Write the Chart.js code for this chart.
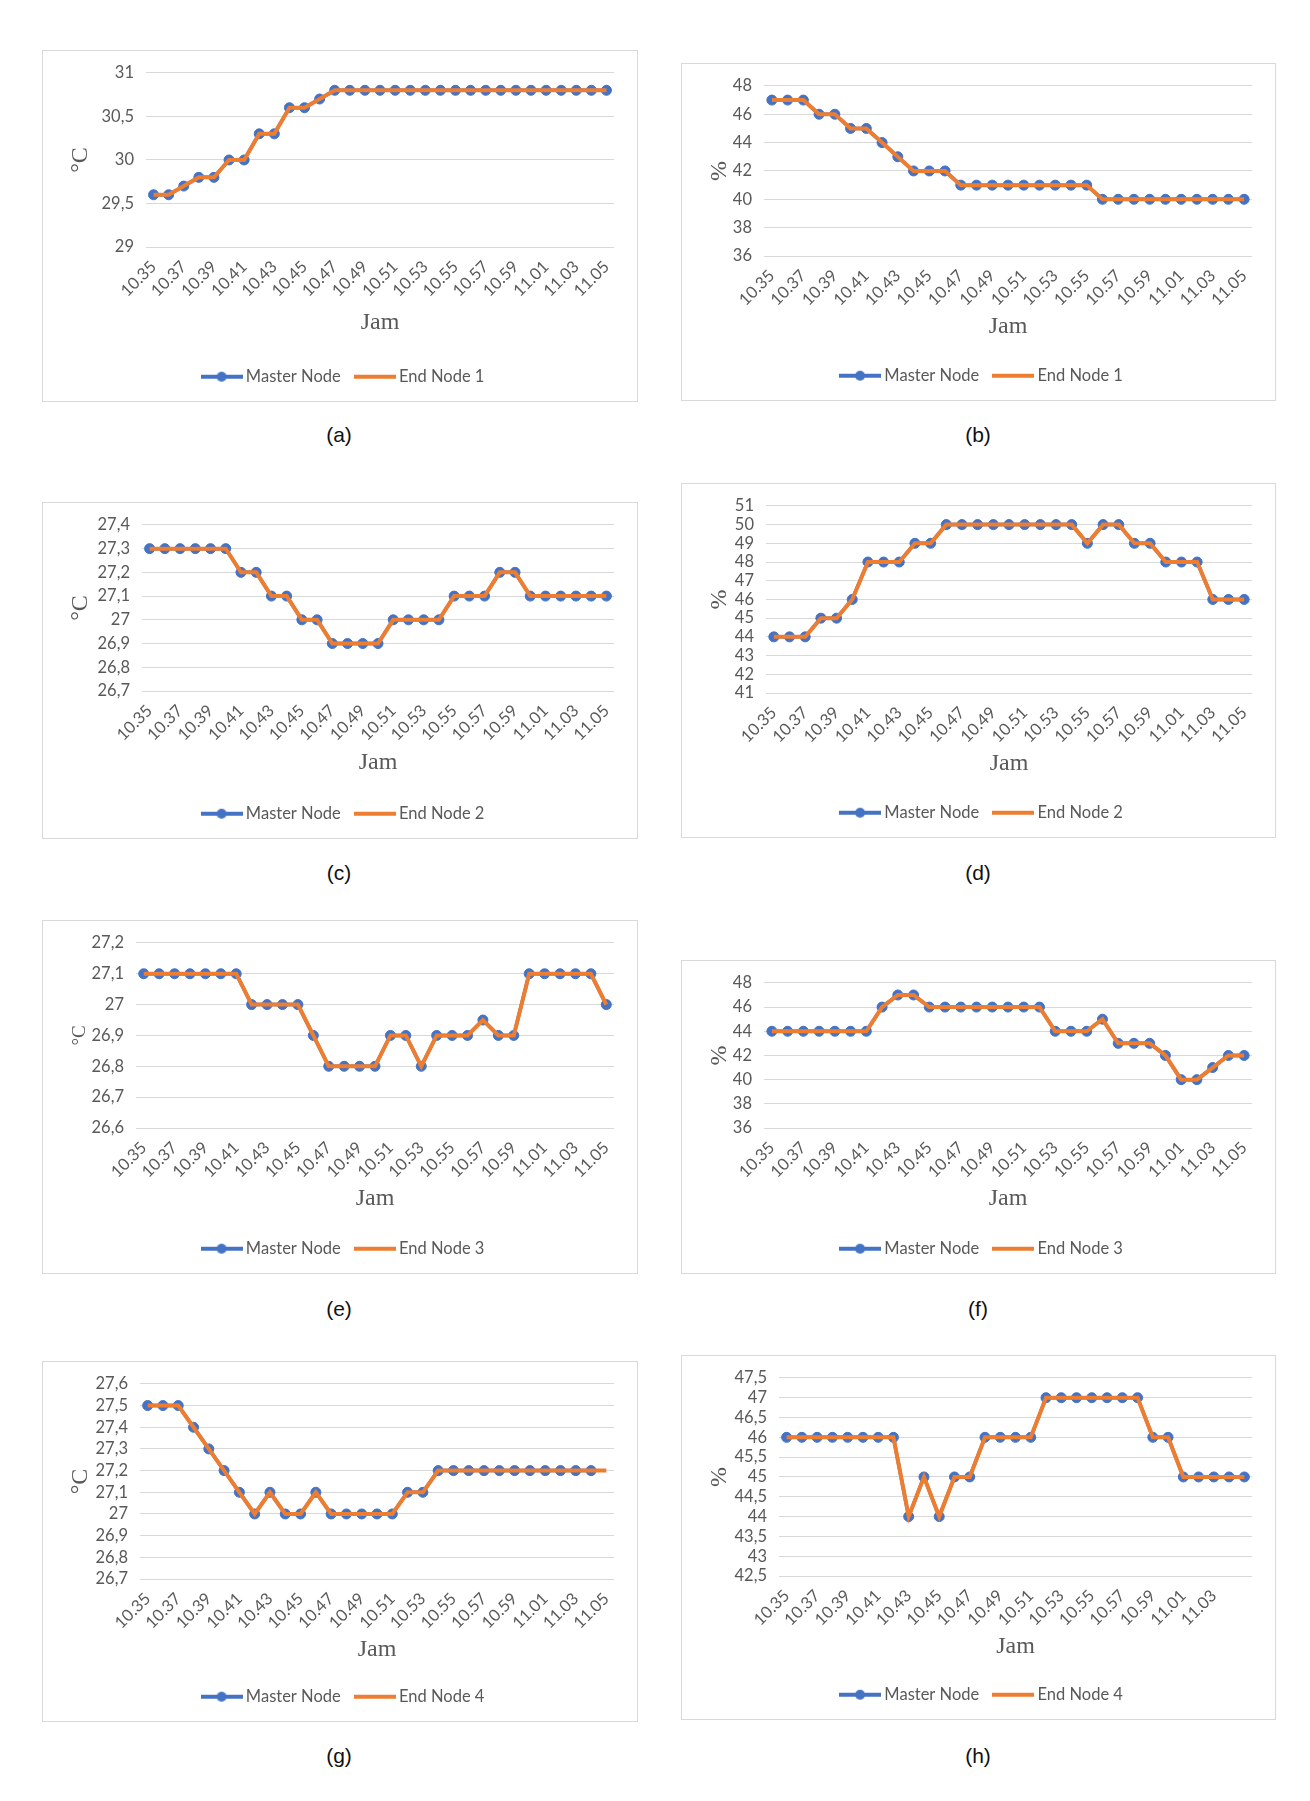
<!DOCTYPE html>
<html>
<head>
<meta charset="utf-8">
<script src="https://cdn.jsdelivr.net/npm/chart.js@4/dist/chart.umd.min.js"></script>
<style>
html,body{margin:0;padding:0;background:#fff;}
body{width:1310px;height:1801px;position:relative;overflow:hidden;font-family:"Liberation Sans",Arial,sans-serif;}
.panel{position:absolute;border:1px solid #d9d9d9;box-sizing:border-box;background:#fff;}
.panel canvas{position:absolute;left:0;top:0;}
.cap{position:absolute;font-size:21px;color:#111;transform:translate(-50%,-50%);white-space:nowrap;font-family:"Liberation Sans",Arial,sans-serif;}
</style>
</head>
<body>
<script>
// ---- categories (time) ----
const times = ['10.35','10.36','10.37','10.38','10.39','10.40','10.41','10.42','10.43','10.44','10.45','10.46','10.47','10.48','10.49','10.50','10.51','10.52','10.53','10.54','10.55','10.56','10.57','10.58','10.59','11.00','11.01','11.02','11.03','11.04','11.05'];

// ---- (a) temperature, End Node 1 ----
const masterA = [29.6,29.6,29.7,29.8,29.8,30.0,30.0,30.3,30.3,30.6,30.6,30.7,30.8,30.8,30.8,30.8,30.8,30.8,30.8,30.8,30.8,30.8,30.8,30.8,30.8,30.8,30.8,30.8,30.8,30.8,30.8];
const endA    = [29.6,29.6,29.7,29.8,29.8,30.0,30.0,30.3,30.3,30.6,30.6,30.7,30.8,30.8,30.8,30.8,30.8,30.8,30.8,30.8,30.8,30.8,30.8,30.8,30.8,30.8,30.8,30.8,30.8,30.8,30.8];
const yTicksA = [29, 29.5, 30, 30.5, 31];

// ---- (b) humidity, End Node 1 ----
const masterB = [47,47,47,46,46,45,45,44,43,42,42,42,41,41,41,41,41,41,41,41,41,40,40,40,40,40,40,40,40,40,40];
const endB    = [47,47,47,46,46,45,45,44,43,42,42,42,41,41,41,41,41,41,41,41,41,40,40,40,40,40,40,40,40,40,40];
const yTicksB = [36, 38, 40, 42, 44, 46, 48];

// ---- (c) temperature, End Node 2 ----
const masterC = [27.3,27.3,27.3,27.3,27.3,27.3,27.2,27.2,27.1,27.1,27.0,27.0,26.9,26.9,26.9,26.9,27.0,27.0,27.0,27.0,27.1,27.1,27.1,27.2,27.2,27.1,27.1,27.1,27.1,27.1,27.1];
const endC    = [27.3,27.3,27.3,27.3,27.3,27.3,27.2,27.2,27.1,27.1,27.0,27.0,26.9,26.9,26.9,26.9,27.0,27.0,27.0,27.0,27.1,27.1,27.1,27.2,27.2,27.1,27.1,27.1,27.1,27.1,27.1];
const yTicksC = [26.7, 26.8, 26.9, 27.0, 27.1, 27.2, 27.3, 27.4];

// ---- (d) humidity, End Node 2 ----
const masterD = [44,44,44,45,45,46,48,48,48,49,49,50,50,50,50,50,50,50,50,50,49,50,50,49,49,48,48,48,46,46,46];
const endD    = [44,44,44,45,45,46,48,48,48,49,49,50,50,50,50,50,50,50,50,50,49,50,50,49,49,48,48,48,46,46,46];
const yTicksD = [41, 42, 43, 44, 45, 46, 47, 48, 49, 50, 51];

// ---- (e) temperature, End Node 3 ----
const masterE = [27.1,27.1,27.1,27.1,27.1,27.1,27.1,27.0,27.0,27.0,27.0,26.9,26.8,26.8,26.8,26.8,26.9,26.9,26.8,26.9,26.9,26.9,26.95,26.9,26.9,27.1,27.1,27.1,27.1,27.1,27.0];
const endE    = [27.1,27.1,27.1,27.1,27.1,27.1,27.1,27.0,27.0,27.0,27.0,26.9,26.8,26.8,26.8,26.8,26.9,26.9,26.8,26.9,26.9,26.9,26.95,26.9,26.9,27.1,27.1,27.1,27.1,27.1,27.0];
const yTicksE = [26.6, 26.7, 26.8, 26.9, 27.0, 27.1, 27.2];

// ---- (f) humidity, End Node 3 ----
const masterF = [44,44,44,44,44,44,44,46,47,47,46,46,46,46,46,46,46,46,44,44,44,45,43,43,43,42,40,40,41,42,42];
const endF    = [44,44,44,44,44,44,44,46,47,47,46,46,46,46,46,46,46,46,44,44,44,45,43,43,43,42,40,40,41,42,42];
const yTicksF = [36, 38, 40, 42, 44, 46, 48];

// ---- (g) temperature, End Node 4 ----
const masterG = [27.5,27.5,27.5,27.4,27.3,27.2,27.1,27.0,27.1,27.0,27.0,27.1,27.0,27.0,27.0,27.0,27.0,27.1,27.1,27.2,27.2,27.2,27.2,27.2,27.2,27.2,27.2,27.2,27.2,27.2,null];
const endG    = [27.5,27.5,27.5,27.4,27.3,27.2,27.1,27.0,27.1,27.0,27.0,27.1,27.0,27.0,27.0,27.0,27.0,27.1,27.1,27.2,27.2,27.2,27.2,27.2,27.2,27.2,27.2,27.2,27.2,27.2,27.2];
const yTicksG = [26.7, 26.8, 26.9, 27.0, 27.1, 27.2, 27.3, 27.4, 27.5, 27.6];

// ---- (h) humidity, End Node 4 ----
const masterH = [46,46,46,46,46,46,46,46,44,45,44,45,45,46,46,46,46,47,47,47,47,47,47,47,46,46,45,45,45,45,45];
const endH    = [46,46,46,46,46,46,46,46,44,45,44,45,45,46,46,46,46,47,47,47,47,47,47,47,46,46,45,45,45,45,45];
const yTicksH = [42.5, 43, 43.5, 44, 44.5, 45, 45.5, 46, 46.5, 47, 47.5];

const seriesNames = ['Master Node', 'End Node 1', 'End Node 2', 'End Node 3', 'End Node 4'];
const captions = ['(a)','(b)','(c)','(d)','(e)','(f)','(g)','(h)'];

// ---- layout (positions / sizes only, page pixels) ----
const panels = [
  {cap:0, left:42,  top:50,   w:596, h:352, gridLeft:146, gridTop:71,   gridBottom:247,  jamGap:5, ySize:24, master:masterA, end:endA, endName:seriesNames[1], yTicks:yTicksA, yTitle:'°C', capX:339, capY:435},
  {cap:1, left:681, top:63,   w:595, h:338, gridLeft:764, gridTop:82,   gridBottom:256,  jamGap:0, ySize:24, master:masterB, end:endB, endName:seriesNames[1], yTicks:yTicksB, yTitle:'%',  capX:978, capY:435},
  {cap:2, left:42,  top:502,  w:596, h:337, gridLeft:142, gridTop:520,  gridBottom:691,  jamGap:1, ySize:24, master:masterC, end:endC, endName:seriesNames[2], yTicks:yTicksC, yTitle:'°C', capX:339, capY:873},
  {cap:3, left:681, top:483,  w:595, h:355, gridLeft:766, gridTop:500,  gridBottom:693,  jamGap:0, ySize:24, master:masterD, end:endD, endName:seriesNames[2], yTicks:yTicksD, yTitle:'%',  capX:978, capY:873},
  {cap:4, left:42,  top:920,  w:596, h:354, gridLeft:136, gridTop:938,  gridBottom:1128, jamGap:0, ySize:19, master:masterE, end:endE, endName:seriesNames[3], yTicks:yTicksE, yTitle:'°C', capX:339, capY:1309},
  {cap:5, left:681, top:960,  w:595, h:314, gridLeft:764, gridTop:978,  gridBottom:1128, jamGap:0, ySize:24, master:masterF, end:endF, endName:seriesNames[3], yTicks:yTicksF, yTitle:'%',  capX:978, capY:1309},
  {cap:6, left:42,  top:1361, w:596, h:361, gridLeft:140, gridTop:1380, gridBottom:1579, jamGap:0, ySize:24, master:masterG, end:endG, endName:seriesNames[4], yTicks:yTicksG, yTitle:'°C', capX:339, capY:1756},
  {cap:7, left:681, top:1355, w:595, h:365, gridLeft:779, gridTop:1373, gridBottom:1576, jamGap:0, ySize:24, master:masterH, end:endH, endName:seriesNames[4], yTicks:yTicksH, yTitle:'%',  capX:978, capY:1756, hideLast:true}
];

const BLUE = '#4472C4', ORANGE = '#ED7D31', TXT = '#595959';
const PAD_LEFT = 33, PAD_RIGHT = 23;

function legendIcon(color, marker){
  const c = document.createElement('canvas');
  c.width = 42; c.height = 12;
  const x = c.getContext('2d');
  x.strokeStyle = color; x.lineWidth = 4;
  x.beginPath(); x.moveTo(0, 6); x.lineTo(42, 6); x.stroke();
  if (marker){ x.fillStyle = color; x.beginPath(); x.arc(21, 6, 5, 0, Math.PI*2); x.fill(); }
  return c;
}
const iconMaster = legendIcon(BLUE, true);
const iconEnd = legendIcon(ORANGE, false);

function fmt(v){ return String(Math.round(v*100)/100).replace('.', ','); }

panels.forEach(p => {
  const div = document.createElement('div');
  div.className = 'panel';
  div.style.left = p.left + 'px'; div.style.top = p.top + 'px';
  div.style.width = p.w + 'px'; div.style.height = p.h + 'px';
  const cv = document.createElement('canvas');
  const cw = p.w - 2, ch = p.h - 2;
  cv.width = cw; cv.height = ch; cv.style.width = cw + 'px'; cv.style.height = ch + 'px';
  div.appendChild(cv);
  document.body.appendChild(div);

  const cap = document.createElement('div');
  cap.className = 'cap'; cap.textContent = captions[p.cap];
  cap.style.left = p.capX + 'px'; cap.style.top = p.capY + 'px';
  document.body.appendChild(cap);

  const yt = p.yTicks;
  const opts = {
    responsive: false, animation: false, events: [],
    layout: {padding: {left: PAD_LEFT, right: PAD_RIGHT, top: 17, bottom: 6}},
    plugins: {
      tooltip: {enabled: false},
      legend: {
        position: 'bottom',
        labels: {
          usePointStyle: true, pointStyleWidth: 32, padding: 18, color: TXT,
          font: {family: 'Lato', size: 16.5},
          generateLabels: () => [
            {text: seriesNames[0], pointStyle: iconMaster, datasetIndex: 0, fillStyle: BLUE, strokeStyle: BLUE, lineWidth: 0, hidden: false, fontColor: TXT},
            {text: p.endName, pointStyle: iconEnd, datasetIndex: 1, fillStyle: ORANGE, strokeStyle: ORANGE, lineWidth: 0, hidden: false, fontColor: TXT}
          ]
        }
      }
    },
    scales: {
      x: {
        offset: true,
        grid: {display: false}, border: {display: false},
        ticks: {
          autoSkip: false, minRotation: 45, maxRotation: 45, padding: 2, color: TXT,
          font: {family: 'Lato', size: 16.5},
          callback: function(v, i){ if (i % 2 !== 0) return ''; if (p.hideLast && i === times.length - 1) return ''; return this.getLabelForValue(v); }
        },
        title: {display: true, text: 'Jam', color: TXT, font: {family: 'Liberation Serif', size: 24}, padding: {top: p.jamGap, bottom: 0}}
      },
      y: {
        min: yt[0], max: yt[yt.length - 1],
        grid: {color: '#d9d9d9', lineWidth: 1, drawTicks: false}, border: {display: false},
        afterBuildTicks: s => { s.ticks = yt.map(v => ({value: v})); },
        afterFit: s => { s.width = p.gridLeft - p.left - 1 - PAD_LEFT; },
        ticks: {autoSkip: false, padding: 12, color: TXT, font: {family: 'Lato', size: 16.5}, callback: v => fmt(v)},
        title: {display: true, text: p.yTitle, color: TXT, font: {family: 'Liberation Serif', size: p.ySize}, padding: {top: -10 + (24 - p.ySize) * 0.6, bottom: 0}}
      }
    }
  };

  const chart = new Chart(cv.getContext('2d'), {
    type: 'line',
    data: {
      labels: times,
      datasets: [
        {label: seriesNames[0], data: p.master, borderColor: BLUE, backgroundColor: BLUE, borderWidth: 3.5,
         pointRadius: 5, pointBorderWidth: 1, pointBackgroundColor: BLUE, pointBorderColor: BLUE, tension: 0, order: 1},
        {label: p.endName, data: p.end, borderColor: ORANGE, backgroundColor: ORANGE, borderWidth: 4,
         pointRadius: 0, tension: 0, order: 0}
      ]
    },
    options: opts
  });

  // fit the plot area to the reference frame (top and bottom of the grid)
  const wantTop = p.gridTop - (p.top + 1);
  const wantBottom = p.gridBottom - (p.top + 1);
  for (let k = 0; k < 3; k++) {
    const ca = chart.chartArea;
    const dTop = wantTop - ca.top;
    const dBot = wantBottom - ca.bottom;
    if (Math.abs(dTop) < 0.5 && Math.abs(dBot) < 0.5) break;
    opts.layout.padding.top += dTop;
    opts.scales.x.title.padding.bottom -= dBot;
    chart.options = opts;
    chart.update('none');
  }
});
</script>
</body>
</html>
